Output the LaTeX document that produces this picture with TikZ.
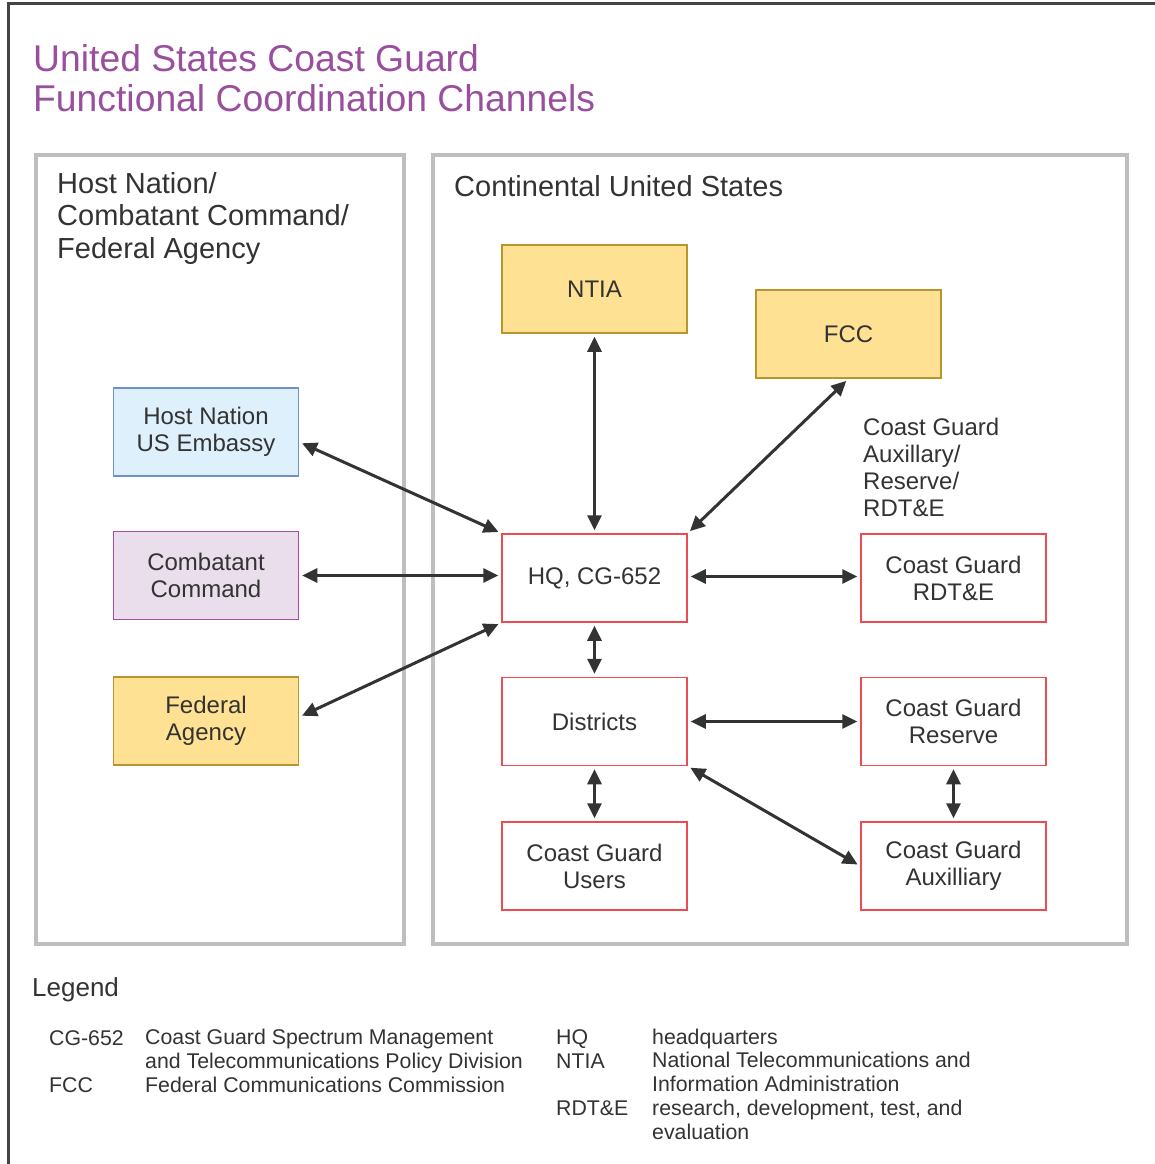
\documentclass[tikz,border=0pt]{standalone}
\usepackage{fontspec}
\setmainfont{Liberation Sans}
\usetikzlibrary{arrows.meta}
\definecolor{txt}{HTML}{333333}
\definecolor{ttl}{HTML}{9A4F9E}
\definecolor{panel}{HTML}{BEBEBE}
\definecolor{frame}{HTML}{444444}
\definecolor{goldfill}{HTML}{FFE194}
\definecolor{goldline}{HTML}{B8962E}
\definecolor{bluefill}{HTML}{DDF0FC}
\definecolor{blueline}{HTML}{7090C8}
\definecolor{purfill}{HTML}{EADDEC}
\definecolor{purline}{HTML}{A84AA8}
\definecolor{redline}{HTML}{EC4B52}
\tikzset{
  box/.style={draw, line width=1.5pt, minimum width=185pt, minimum height=88pt, inner sep=0pt,
    align=center, text=txt, font=\fontsize{24}{27}\selectfont},
  goldbox/.style={box, fill=goldfill, draw=goldline},
  bluebox/.style={box, fill=bluefill, draw=blueline},
  purbox/.style={box, fill=purfill, draw=purline},
  redbox/.style={box, fill=white, draw=redline},
  link/.style={line width=3pt, draw=txt, {Triangle[length=15pt,width=14pt]}-{Triangle[length=15pt,width=14pt]}, shorten <=3pt, shorten >=3pt},
  panelbox/.style={draw=panel, line width=4pt},
  heading/.style={anchor=base west, inner sep=0pt, text=txt, align=left, font=\fontsize{29}{32.5}\selectfont},
  legtxt/.style={anchor=base west, inner sep=0pt, text=txt, align=left, font=\fontsize{21.3}{23.7}\selectfont},
}
\begin{document}
\begin{tikzpicture}[x=1pt,y=-1pt]
\useasboundingbox (0,0) rectangle (1154,1164);
\fill[white] (0,0) rectangle (1154,1164);
% outer frame
\draw[frame, line width=3pt] (8,1166) -- (8,4) -- (1156,4);
% title (anchor base = baseline of last line)
\node[anchor=base west, inner sep=0pt, text=ttl, align=left, font=\fontsize{37.3}{39.5}\selectfont] (title) at (33,111) {United States Coast Guard\\Functional Coordination Channels};
% panels
\draw[panelbox] (36,155) rectangle (404,944);
\draw[panelbox] (433,155) rectangle (1127,944);
\node[heading] (hleft) at (57,258) {Host Nation/\\Combatant Command/\\Federal Agency};
\node[heading] (hright) at (454,196) {Continental United States};
% boxes
\node[goldbox] (ntia) at (594.5,289) {NTIA};
\node[goldbox] (fcc) at (848.5,334) {FCC};
\node[bluebox] (host) at (206,432) {Host Nation\\US Embassy};
\node[purbox] (comb) at (206,575.5) {Combatant\\Command};
\node[goldbox] (fed) at (206,721) {Federal\\Agency};
\node[redbox] (hq) at (594.5,578) {HQ, CG-652};
\node[redbox] (dist) at (594.5,721.5) {Districts};
\node[redbox] (users) at (594.5,866) {Coast Guard\\Users};
\node[redbox] (rdte) at (953.5,578) {Coast Guard\\RDT\&E};
\node[redbox] (res) at (953.5,721.5) {Coast Guard\\Reserve};
\node[redbox] (aux) at (953.5,866) {Coast Guard\\Auxilliary};
\node[anchor=base west, inner sep=0pt, text=txt, align=left, font=\fontsize{24}{26.7}\selectfont] (cglabel) at (863,516) {Coast Guard\\Auxillary/\\Reserve/\\RDT\&E};
% connectors
\coordinate (hoste) at ([yshift=-10pt]host.east);
\coordinate (fede) at ([yshift=4pt]fed.east);
\draw[link] (ntia.south) -- (hq.north);
\draw[link] (fcc.south) -- (hq.north east);
\draw[link] (hoste) -- (hq.north west);
\draw[link] (comb.east) -- (comb.east -| hq.west);
\draw[link] (fede) -- (hq.south west);
\draw[link] ([yshift=1.5pt]hq.east) -- ([yshift=1.5pt]rdte.west);
\draw[link] (hq.south) -- (dist.north);
\draw[link] (dist.east) -- (res.west);
\draw[link] (dist.south) -- (users.north);
\draw[link] (dist.south east) -- (aux.west);
\draw[link] (res.south) -- (aux.north);
% legend
\node[anchor=base west, inner sep=0pt, text=txt, font=\fontsize{26}{30}\selectfont] (legend) at (32,996) {Legend};
\node[legtxt] (a1) at (49,1045) {CG-652};
\node[legtxt] (b1) at (145,1092) {Coast Guard Spectrum Management\\and Telecommunications Policy Division\\Federal Communications Commission};
\node[legtxt] (a2) at (49,1092) {FCC};
\node[legtxt] (a3) at (556,1068) {HQ\\NTIA};
\node[legtxt] (a4) at (556,1115) {RDT\&E};
\node[legtxt] (b3) at (652,1139) {headquarters\\National Telecommunications and\\Information Administration\\research, development, test, and\\evaluation};
\end{tikzpicture}
\end{document}
